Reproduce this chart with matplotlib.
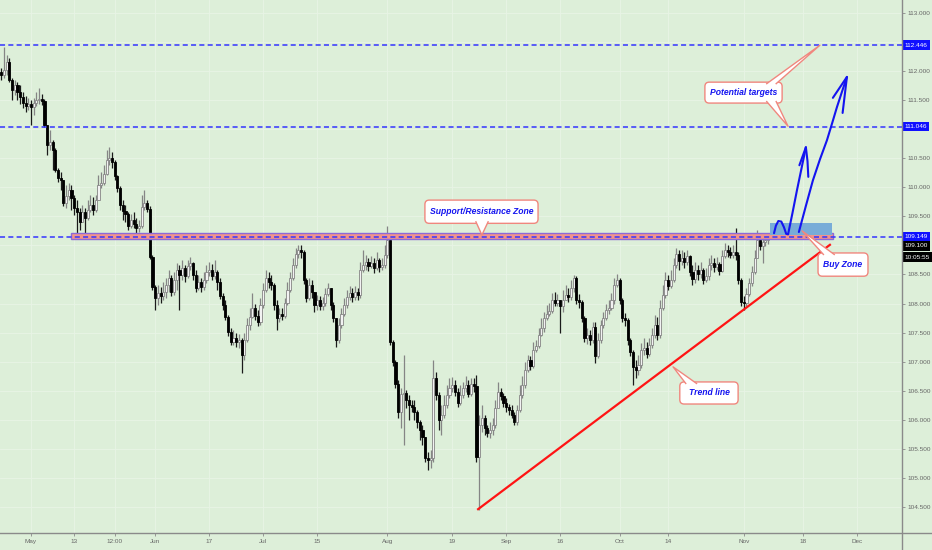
import matplotlib.pyplot as plt
from matplotlib.lines import Line2D
from matplotlib.patches import Rectangle, FancyBboxPatch, Polygon
import numpy as np

plt.rcParams['font.family'] = ['Liberation Sans', 'DejaVu Sans']

# USDJPY, 12h candles, open = previous close
first_open = 111.98
close = [
    111.93, 112.02, 112.16, 111.85, 111.67, 111.76, 111.64, 111.55, 111.45, 111.40,
    111.43, 111.38, 111.45, 111.50, 111.52, 111.48, 111.07, 110.73, 110.78, 110.64,
    110.30, 110.16, 110.12, 109.73, 109.85, 109.95, 109.81, 109.64, 109.57, 109.40,
    109.57, 109.47, 109.61, 109.69, 109.61, 109.78, 110.04, 110.07, 110.23, 110.47,
    110.50, 110.43, 110.19, 109.99, 109.69, 109.59, 109.54, 109.33, 109.44, 109.37,
    109.30, 109.33, 109.66, 109.73, 109.63, 108.80, 108.28, 108.09, 108.18, 108.13,
    108.20, 108.32, 108.44, 108.20, 108.40, 108.58, 108.49, 108.61, 108.47, 108.64,
    108.70, 108.49, 108.27, 108.37, 108.28, 108.40, 108.54, 108.58, 108.47, 108.54,
    108.37, 108.13, 107.97, 107.77, 107.51, 107.34, 107.41, 107.34, 107.37, 107.11,
    107.37, 107.63, 107.77, 107.92, 107.78, 107.68, 107.97, 108.23, 108.44, 108.37,
    108.32, 107.97, 107.75, 107.82, 107.78, 108.01, 108.23, 108.44, 108.66, 108.85,
    108.92, 108.88, 108.40, 108.09, 108.32, 108.20, 107.97, 108.06, 107.96, 108.01,
    108.16, 108.27, 107.97, 107.75, 107.37, 107.63, 107.82, 107.97, 108.11, 108.18,
    108.11, 108.20, 108.15, 108.58, 108.66, 108.71, 108.64, 108.70, 108.61, 108.75,
    108.63, 108.66, 108.83, 109.09, 107.34, 106.99, 106.61, 106.13, 106.44, 106.46,
    106.34, 106.25, 106.22, 106.13, 105.96, 105.82, 105.70, 105.34, 105.31, 105.34,
    106.72, 106.42, 105.99, 106.08, 106.25, 106.42, 106.54, 106.60, 106.48, 106.29,
    106.42, 106.54, 106.60, 106.44, 106.61, 106.58, 105.36, 105.91, 106.03, 105.86,
    105.77, 105.82, 105.91, 106.20, 106.48, 106.41, 106.29, 106.22, 106.17, 106.08,
    105.96, 106.17, 106.42, 106.60, 106.86, 107.03, 106.92, 107.20, 107.27, 107.46,
    107.58, 107.75, 107.82, 107.87, 108.06, 108.01, 108.06, 107.96, 108.06, 108.15,
    108.11, 108.27, 108.44, 108.06, 108.03, 107.75, 107.41, 107.46, 107.37, 107.60,
    107.10, 107.37, 107.63, 107.75, 107.89, 107.92, 108.06, 108.32, 108.40, 108.06,
    107.75, 107.72, 107.37, 107.16, 106.91, 106.86, 106.94, 107.20, 107.23, 107.13,
    107.29, 107.46, 107.63, 107.46, 107.92, 108.15, 108.40, 108.30, 108.40, 108.66,
    108.85, 108.73, 108.78, 108.71, 108.82, 108.54, 108.42, 108.58, 108.51, 108.58,
    108.40, 108.47, 108.66, 108.70, 108.63, 108.68, 108.56, 108.82, 108.92, 108.88,
    108.83, 108.88, 108.83, 108.40, 108.03, 108.01, 108.16, 108.35, 108.54, 108.78,
    109.09, 108.99, 109.06, 109.09, 109.10,
]
high = [
    112.05, 112.41, 112.28, 112.23, 111.88, 111.85, 111.81, 111.76, 111.64, 111.57,
    111.54, 111.50, 111.54, 111.64, 111.71, 111.60, 111.52, 110.95, 110.99, 110.81,
    110.68, 110.33, 110.26, 110.12, 110.04, 110.07, 110.04, 109.87, 109.78, 109.64,
    109.69, 109.64, 109.78, 109.87, 109.83, 109.87, 110.21, 110.26, 110.38, 110.64,
    110.69, 110.61, 110.47, 110.21, 110.02, 109.78, 109.69, 109.57, 109.54, 109.57,
    109.47, 109.44, 109.87, 109.95, 109.78, 109.68, 108.83, 108.32, 108.32, 108.28,
    108.37, 108.44, 108.58, 108.49, 108.54, 108.70, 108.66, 108.75, 108.66, 108.75,
    108.80, 108.71, 108.58, 108.49, 108.44, 108.54, 108.66, 108.71, 108.68, 108.75,
    108.58, 108.44, 108.18, 108.06, 107.80, 107.58, 107.54, 107.49, 107.47, 107.41,
    107.49, 107.75, 107.92, 108.18, 107.99, 107.89, 108.09, 108.35, 108.58, 108.54,
    108.49, 108.35, 108.06, 107.92, 107.92, 108.09, 108.37, 108.54, 108.78, 108.95,
    109.00, 109.00, 108.92, 108.44, 108.44, 108.40, 108.20, 108.15, 108.13, 108.11,
    108.27, 108.35, 108.27, 108.03, 107.75, 107.75, 107.92, 108.09, 108.23, 108.30,
    108.27, 108.30, 108.27, 108.71, 108.92, 108.83, 108.78, 108.82, 108.78, 108.88,
    108.78, 108.78, 109.00, 109.33, 109.13, 107.37, 107.03, 106.68, 106.54, 107.11,
    106.51, 106.42, 106.34, 106.34, 106.17, 105.99, 105.91, 105.65, 105.44, 105.48,
    107.03, 106.82, 106.47, 106.25, 106.42, 106.60, 106.72, 106.73, 106.68, 106.54,
    106.60, 106.65, 106.75, 106.68, 106.72, 106.72, 106.77, 106.08, 106.25, 106.08,
    105.91, 105.96, 106.03, 106.34, 106.65, 106.54, 106.46, 106.37, 106.27, 106.25,
    106.13, 106.25, 106.60, 106.75, 106.99, 107.11, 107.10, 107.34, 107.37, 107.58,
    107.75, 107.85, 107.97, 108.01, 108.18, 108.20, 108.16, 108.06, 108.23, 108.32,
    108.27, 108.40, 108.49, 108.47, 108.16, 108.06, 107.78, 107.58, 107.54, 107.68,
    107.68, 107.49, 107.72, 107.85, 107.99, 108.06, 108.18, 108.44, 108.51, 108.44,
    108.09, 107.84, 107.75, 107.41, 107.20, 107.03, 107.11, 107.32, 107.41, 107.34,
    107.41, 107.58, 107.80, 107.77, 108.06, 108.32, 108.54, 108.49, 108.58, 108.78,
    108.95, 108.92, 108.92, 108.88, 108.92, 108.83, 108.66, 108.71, 108.66, 108.71,
    108.61, 108.61, 108.78, 108.83, 108.78, 108.80, 108.71, 108.92, 109.04, 109.00,
    108.97, 109.00, 109.30, 108.88, 108.44, 108.13, 108.27, 108.44, 108.64, 108.92,
    109.26, 109.16, 109.16, 109.19, 109.19,
]
low = [
    111.85, 111.88, 111.93, 111.81, 111.50, 111.59, 111.50, 111.43, 111.36, 111.30,
    111.33, 111.07, 111.24, 111.40, 111.43, 111.42, 111.04, 110.56, 110.64, 110.30,
    110.26, 110.09, 109.95, 109.68, 109.64, 109.78, 109.61, 109.52, 109.14, 109.26,
    109.40, 109.18, 109.44, 109.57, 109.52, 109.57, 109.81, 109.99, 110.04, 110.21,
    110.38, 110.33, 110.12, 109.92, 109.61, 109.44, 109.40, 109.26, 109.30, 109.30,
    109.19, 109.23, 109.30, 109.61, 109.57, 108.77, 108.23, 107.89, 107.97, 108.01,
    108.06, 108.09, 108.20, 108.13, 108.15, 108.23, 107.89, 108.40, 108.37, 108.44,
    108.58, 108.40, 108.20, 108.23, 108.20, 108.23, 108.35, 108.47, 108.40, 108.42,
    108.23, 108.08, 107.89, 107.72, 107.44, 107.29, 107.29, 107.25, 107.23, 106.80,
    107.03, 107.34, 107.54, 107.75, 107.72, 107.61, 107.63, 107.92, 108.20, 108.27,
    108.23, 107.89, 107.54, 107.68, 107.72, 107.75, 107.97, 108.20, 108.40, 108.61,
    108.78, 108.78, 108.33, 108.02, 108.06, 108.09, 107.85, 107.89, 107.89, 107.89,
    107.96, 108.13, 107.89, 107.68, 107.25, 107.32, 107.58, 107.78, 107.92, 108.06,
    108.03, 108.06, 108.06, 108.09, 108.54, 108.58, 108.56, 108.61, 108.52, 108.58,
    108.54, 108.58, 108.61, 108.78, 107.29, 106.92, 106.54, 106.03, 105.85, 105.56,
    106.20, 105.99, 106.13, 105.99, 105.86, 105.65, 105.56, 105.27, 105.13, 105.17,
    105.27, 106.34, 105.82, 105.74, 106.03, 106.20, 106.37, 106.48, 106.41, 106.22,
    106.25, 106.37, 106.48, 106.39, 106.41, 106.48, 105.27, 104.45, 105.79, 105.74,
    105.70, 105.68, 105.74, 105.86, 106.20, 106.34, 106.22, 106.13, 106.08, 106.03,
    105.91, 105.91, 106.13, 106.37, 106.54, 106.82, 106.86, 106.89, 107.16, 107.23,
    107.44, 107.51, 107.72, 107.78, 107.83, 107.96, 107.96, 107.49, 107.85, 108.06,
    108.03, 108.06, 108.20, 107.99, 107.92, 107.68, 107.34, 107.30, 107.29, 107.32,
    106.97, 107.06, 107.32, 107.58, 107.72, 107.82, 107.89, 107.99, 108.28, 107.99,
    107.68, 107.61, 107.29, 107.10, 106.60, 106.72, 106.77, 106.89, 107.11, 107.06,
    107.10, 107.23, 107.41, 107.37, 107.41, 107.89, 108.09, 108.23, 108.27, 108.37,
    108.61, 108.58, 108.66, 108.61, 108.66, 108.47, 108.32, 108.35, 108.40, 108.44,
    108.33, 108.37, 108.40, 108.58, 108.54, 108.58, 108.49, 108.54, 108.78, 108.80,
    108.78, 108.78, 108.75, 108.33, 107.96, 107.89, 107.96, 108.13, 108.30, 108.51,
    108.83, 108.92, 108.70, 108.99, 109.02,
]

# x axis: bar index of the labelled dates
date_ticks = [11, 27, 42, 57, 77, 97, 117, 143, 167, 187, 207, 229, 247, 275, 297, 317]
date_labels = ['May', '13', '12:00', 'Jun', '17', 'Jul', '15', 'Aug', '19', 'Sep',
               '16', 'Oct', '14', 'Nov', '18', 'Dec']
price_ticks = [104.5, 105.0, 105.5, 106.0, 106.5, 107.0, 107.5, 108.0, 108.5,
               109.0, 109.5, 110.0, 110.5, 111.0, 111.5, 112.0, 112.5, 113.0]
# tick labels hidden behind the price-line labels
hidden_ticks = [109.0, 111.0, 112.5]

levels = [112.446, 111.046, 109.149]
last_price = '109.100'
countdown = '10:05:55'

# drawing objects (bar index, price)
sr_zone = (25.8, 308.0, 109.115, 109.205)
buy_zone = (284.7, 307.7, 109.18, 109.39)
trend = ([176.6, 306.9], [104.46, 109.01])
arrow1 = [(286.2, 109.21), (286.9, 109.34), (287.8, 109.42), (288.9, 109.41),
          (289.9, 109.31), (290.7, 109.20), (291.4, 109.19), (293.0, 109.55),
          (294.7, 109.95), (296.4, 110.33), (298.0, 110.69)]
arrow1_head = [(295.6, 110.38), (298.0, 110.69), (298.6, 110.45), (298.9, 110.18)]
arrow2 = [(295.4, 109.23), (298.0, 109.68), (300.6, 110.12), (303.2, 110.48),
          (305.8, 110.81), (307.7, 111.10), (309.5, 111.38), (311.4, 111.65),
          (313.2, 111.90)]
arrow2_head = [(308.0, 111.54), (313.2, 111.90), (311.6, 111.28)]

BG = '#ddefd9'
CORAL = '#f0877e'
BLUE = '#1414f0'

fig = plt.figure(figsize=(9.32, 5.5), dpi=100, facecolor=BG)
ax = fig.add_axes([0, 17 / 550, 902 / 932, 533 / 550], facecolor=BG)
ax.set_xlim(-0.48, 333.6)
ax.set_ylim(104.05, 113.224)

o = np.array([first_open] + close[:-1])
c = np.array(close)
h = np.maximum(np.array(high), np.maximum(o, c))
l = np.minimum(np.array(low), np.minimum(o, c))
x = np.arange(len(c))
up = c >= o
lo = np.minimum(o, c)
hh = np.maximum(np.abs(c - o), 0.015)

ax.vlines(x[up], l[up], h[up], color='#858585', lw=0.9, zorder=3)
ax.vlines(x[~up], l[~up], h[~up], color='#1a1a1a', lw=0.9, zorder=3)
ax.bar(x[up], hh[up], 0.8, bottom=lo[up], color='#f2f2f2', edgecolor='#858585', lw=0.6, zorder=4)
ax.bar(x[~up], hh[~up], 0.8, bottom=lo[~up], color='black', edgecolor='black', lw=0.6, zorder=4)

# support / resistance band and buy zone
ax.add_patch(Rectangle((sr_zone[0], sr_zone[2]), sr_zone[1] - sr_zone[0], sr_zone[3] - sr_zone[2],
                       fc='#f3948a', ec='#8c6ad8', lw=1.0, zorder=5))
ax.add_patch(Rectangle((buy_zone[0], buy_zone[2]), buy_zone[1] - buy_zone[0], buy_zone[3] - buy_zone[2],
                       fc='#78acd8', ec='none', zorder=5))

for lv in levels:
    ax.axhline(lv, color='#3535ff', lw=1.3, ls=(0, (2.8, 1.8)), alpha=0.85, zorder=6)

ax.plot(*trend, color='#ff1414', lw=1.6, zorder=6)

for pts in (arrow1, arrow1_head, arrow2, arrow2_head):
    xs, ys = zip(*pts)
    ax.plot(xs, ys, color=BLUE, lw=1.5, solid_capstyle='round', solid_joinstyle='round', zorder=7)

# callouts
x0, x1 = ax.get_xlim()
y0, y1 = ax.get_ylim()
asp = ((y1 - y0) / 533) / ((x1 - x0) / 902)
eps = 1.5 * (y1 - y0) / 533


def callout(box, text, wedges):
    bx0, bx1, by0, by1 = box
    ax.add_patch(FancyBboxPatch((bx0, by0), bx1 - bx0, by1 - by0,
                                boxstyle='round,pad=0,rounding_size=1.6', mutation_aspect=asp,
                                fc='white', ec=CORAL, lw=1.0, zorder=8))
    for (wx0, wx1), tip in wedges:
        yb = by1 - eps if tip[1] > by1 else by0 + eps
        ax.add_patch(Polygon([(wx0, yb), tip, (wx1, yb)], closed=True, fc='white', ec='none', zorder=9))
        ax.plot([wx0, tip[0], wx1], [yb, tip[1], yb], color=CORAL, lw=1.0, zorder=9)
    ax.text((bx0 + bx1) / 2, (by0 + by1) / 2, text, ha='center', va='center', fontsize=6.2,
            fontweight='bold', fontstyle='italic', color=BLUE, zorder=10)


callout((260.6, 289.2, 111.45, 111.81), 'Potential targets',
        [((283.5, 287.0), (303.2, 112.446)), ((283.5, 287.0), (291.4, 111.05))])
callout((156.9, 198.8, 109.38, 109.78), 'Support/Resistance Zone',
        [((175.8, 180.3), (178.0, 109.18))])
callout((302.5, 321.0, 108.47, 108.87), 'Buy Zone',
        [((304.5, 308.5), (296.6, 109.25))])
callout((251.3, 272.9, 106.27, 106.65), 'Trend line',
        [((253.5, 257.5), (248.8, 106.91))])

# axes styling
for s in ax.spines.values():
    s.set_visible(False)
ax.yaxis.tick_right()
ax.set_yticks(price_ticks)
ax.set_yticklabels(['' if v in hidden_ticks else f'{v:.3f}' for v in price_ticks])
ax.set_xticks(date_ticks)
ax.set_xticklabels(date_labels)
ax.tick_params(axis='both', length=2.5, width=0.6, color='#8a8a8a', labelsize=4.6,
               labelcolor='#666666', pad=1.5)
ax.grid(True, color='#e8f4e6', lw=0.6)
ax.set_axisbelow(True)

ytr = ax.get_yaxis_transform()
for lv in levels:
    ax.text(1.003, lv, f'{lv:.3f}', transform=ytr, ha='left', va='center', fontsize=4.6,
            color='white', zorder=11, bbox=dict(boxstyle='square,pad=0.35', fc='#1010ff', ec='none'))
ax.text(1.003, 108.99, last_price, transform=ytr, ha='left', va='center', fontsize=4.6,
        color='white', zorder=11, bbox=dict(boxstyle='square,pad=0.35', fc='black', ec='none'))
ax.text(1.003, 108.80, countdown, transform=ytr, ha='left', va='center', fontsize=4.6,
        color='white', zorder=11, bbox=dict(boxstyle='square,pad=0.35', fc='black', ec='none'))

fig.add_artist(Line2D([0, 1], [17 / 550, 17 / 550], color='#8a8a8a', lw=1.0, transform=fig.transFigure))
fig.add_artist(Line2D([902 / 932, 902 / 932], [0, 1], color='#8a8a8a', lw=1.0, transform=fig.transFigure))

fig.savefig('out.png', dpi=100, facecolor=BG)
